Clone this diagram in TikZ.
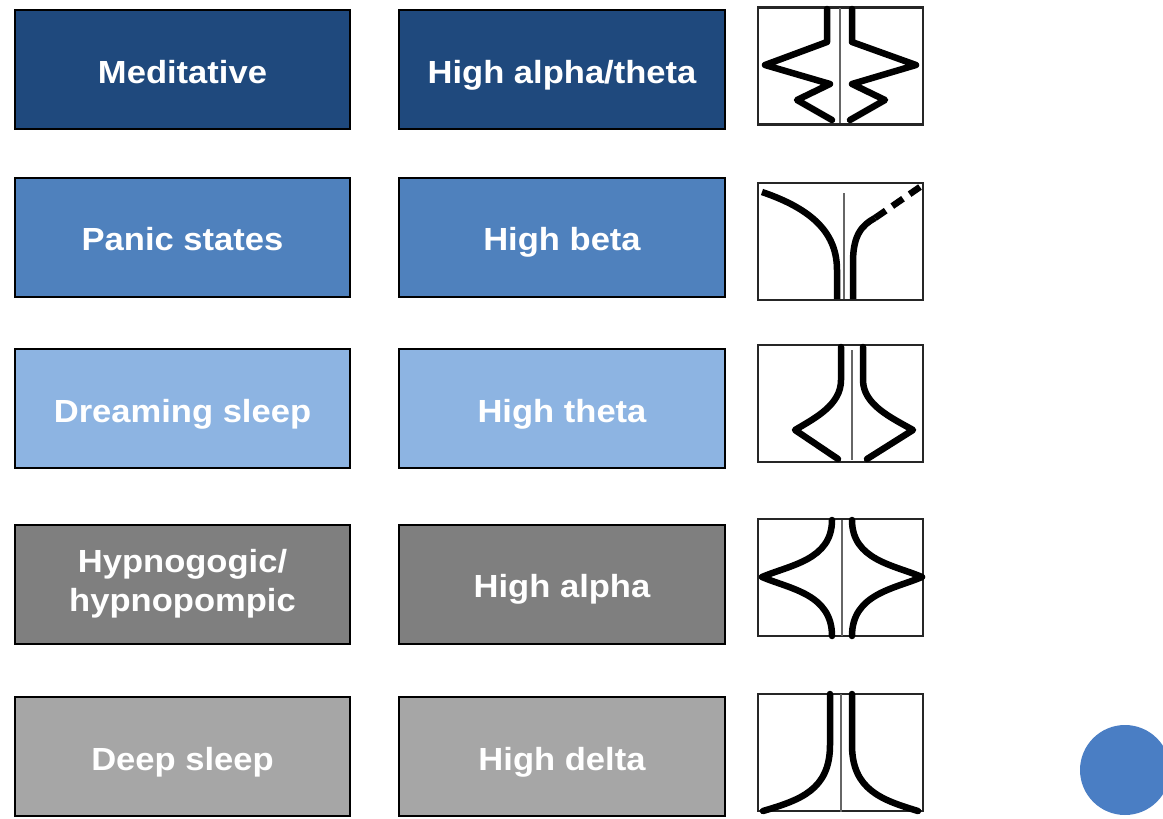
\documentclass[tikz,border=0pt]{standalone}
\usepackage{fontspec}
\setmainfont{Liberation Sans}
\newfontfamily\boxfont[FakeStretch=1.08]{Liberation Sans Bold}
\begin{document}
\begin{tikzpicture}[x=1pt,y=-1pt,
  box/.style={draw=black,line width=2pt,minimum height=119pt,text=white,
    font=\boxfont\fontsize{32}{39}\selectfont,align=center,inner sep=0pt},
  one/.style={text height=33pt,text depth=6pt},
  lbox/.style={box,minimum width=335pt},
  mbox/.style={box,minimum width=326pt},
  ibox/.style={draw=black!85,line width=2.2pt,minimum width=165pt,minimum height=117pt,inner sep=0pt},
  wave/.style={line width=6.5pt,line join=round,line cap=round},
  mid/.style={draw=gray!80!black,line width=2pt}]
\definecolor{c1}{HTML}{1F497D}
\definecolor{c2}{HTML}{4F81BD}
\definecolor{c3}{HTML}{8DB4E2}
\definecolor{c4}{HTML}{7F7F7F}
\definecolor{c5}{HTML}{A6A6A6}
\definecolor{dot}{HTML}{4A7EC4}
\useasboundingbox (0,0) rectangle (1163,819);

\node[lbox,one,fill=c1] (l1) at (182.5,69.5) {Meditative};
\node[mbox,one,fill=c1] (m1) at (562,69.5) {High alpha/theta};
\node[lbox,one,fill=c2] (l2) at (182.5,237) {Panic states};
\node[mbox,one,fill=c2] (m2) at (562,237) {High beta};
\node[lbox,one,fill=c3] (l3) at (182.5,408.5) {Dreaming sleep};
\node[mbox,one,fill=c3] (m3) at (562,408.5) {High theta};
\node[lbox,fill=c4] (l4) at (182.5,584) {Hypnogogic/\\hypnopompic};
\node[mbox,one,fill=c4] (m4) at (562,584) {High alpha};
\node[lbox,one,fill=c5] (l5) at (182.5,756.5) {Deep sleep};
\node[mbox,one,fill=c5] (m5) at (562,756.5) {High delta};

% icon 1
\node[ibox] (i1) at (840.5,66) {};
\draw[mid] (840,8) -- (840,123);
\draw[wave] (827,9) -- (827,42) -- (765,65) -- (830,84) -- (797,100) -- (832,120);
\draw[wave] (852,9) -- (852,42) -- (916,65) -- (852,84) -- (885,100) -- (850,120);

% icon 2
\node[ibox] (i2) at (840.5,241.5) {};
\draw[mid] (844,193) -- (844,299);
\draw[wave,line cap=butt] (762,192) .. controls (815,210) and (837,235) .. (837,270) -- (837,299);
\draw[wave,line cap=butt] (853,299) -- (853,262) .. controls (853,235) and (862,225) .. (875,218);
\draw[wave,line cap=butt,dash pattern=on 13pt off 8pt] (875,218) -- (920,187);

% icon 3
\node[ibox] (i3) at (840.5,403.5) {};
\draw[mid] (852,350) -- (852,460);
\draw[wave] (841,347) -- (841,380) .. controls (841,405) and (815,418) .. (795,430) -- (838,459);
\draw[wave] (863,347) -- (863,380) .. controls (863,405) and (892,418) .. (913,430) -- (867,459);

% icon 4
\node[ibox] (i4) at (840.5,577.5) {};
\draw[mid] (842,520) -- (842,636);
\draw[wave] (832,520) .. controls (832,560) and (790,565) .. (762,577) .. controls (790,589) and (832,594) .. (832,636);
\draw[wave] (852,520) .. controls (852,560) and (894,565) .. (922,577) .. controls (894,589) and (852,594) .. (852,636);

% icon 5
\node[ibox] (i5) at (840.5,752.5) {};
\draw[mid] (841,694) -- (841,812);
\draw[wave] (830,694) -- (830,745) .. controls (830,790) and (800,800) .. (763,811);
\draw[wave] (852,694) -- (852,745) .. controls (852,790) and (882,800) .. (918,811);

\begin{scope}
\clip (0,0) rectangle (1163,819);
\fill[dot] (1125,770) circle (45);
\end{scope}
\end{tikzpicture}
\end{document}
